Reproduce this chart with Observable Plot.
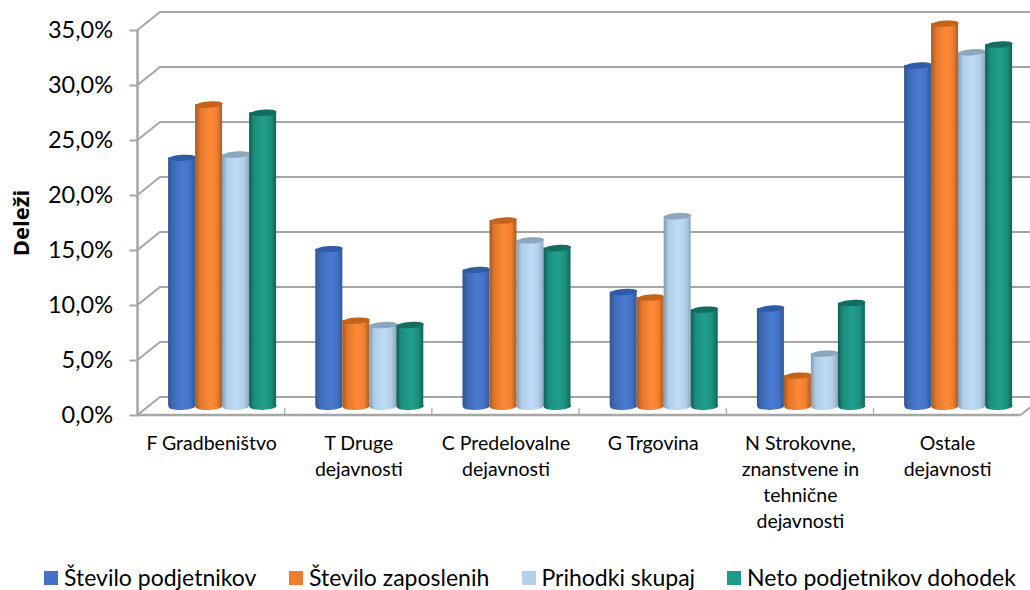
<!DOCTYPE html>
<html><head><meta charset="utf-8">
<script src="https://cdn.jsdelivr.net/npm/d3@7"></script>
<script src="https://cdn.jsdelivr.net/npm/@observablehq/plot@0.6"></script>
<style>
html,body{margin:0;padding:0;background:#fff;width:1030px;height:590px;overflow:hidden}
#chart{position:absolute;left:0;top:0}
#legend{position:absolute;left:0;top:545px;width:1030px;height:45px;font-family:Lato,sans-serif;font-size:23px;color:#000}
#legend .item{position:absolute;top:20px;line-height:24px;white-space:nowrap}
#legend .sw{position:absolute;top:6px;width:14px;height:14px}
#legend .lb{position:absolute;left:20px;top:0}
</style></head><body>
<div id="chart"></div><div id="legend"></div>
<script>
const categories = ["F Gradbeništvo","T Druge\ndejavnosti","C Predelovalne\ndejavnosti","G Trgovina","N Strokovne,\nznanstvene in\ntehnične\ndejavnosti","Ostale\ndejavnosti"];
const series = ["Število podjetnikov","Število zaposlenih","Prihodki skupaj","Neto podjetnikov dohodek"];
const podjetniki = [22.6,14.3,12.4,10.4,8.9,31.0];
const zaposleni = [27.45,7.8,16.9,9.9,2.8,34.8];
const prihodki = [22.9,7.4,15.1,17.3,4.8,32.2];
const dohodek = [26.7,7.4,14.4,8.8,9.4,32.9];
const seriesValues = [podjetniki,zaposleni,prihodki,dohodek];
const yTicks = [0,5,10,15,20,25,30,35];
const legendLeft = [44,289,521.5,727];
const swatch = ["#4472c4","#ed7d31","#b4cfe9","#1f9a88"];
const topColor = ["#2f5ca8","#c5631d","#8ba6bd","#126e60"];
const gradients = [
 ["#2f568f","#3f69b6","#4a7bd2","#4472c4","#2f5a9e"],
 ["#a9581c","#e0762c","#ff8a35","#f08030","#ae5c20"],
 ["#8499ad","#b0cde8","#bedcf6","#b2cfea","#8fa9c2"],
 ["#0f5c52","#1c8d7c","#20a08d","#1c8f7e","#11665a"]
];
const grid = "#a6a6a6";
const depthX = 22.5, depthY = -18;

const table = series.flatMap((s,i)=>categories.map((c,j)=>({series:s,category:c,value:seriesValues[i][j]})));

function ellipseSymbol(rx,ry,ang){
  const c=Math.cos(ang), s=Math.sin(ang), k=0.5523;
  const p=(x,y)=>[x*c-y*s,x*s+y*c];
  return {draw(ctx){
    ctx.moveTo(...p(rx,0));
    ctx.bezierCurveTo(...p(rx,k*ry),...p(k*rx,ry),...p(0,ry));
    ctx.bezierCurveTo(...p(-k*rx,ry),...p(-rx,k*ry),...p(-rx,0));
    ctx.bezierCurveTo(...p(-rx,-k*ry),...p(-k*rx,-ry),...p(0,-ry));
    ctx.bezierCurveTo(...p(k*rx,-ry),...p(rx,-k*ry),...p(rx,0));
    ctx.closePath();
  }};
}
const topSym = ellipseSymbol(13.5,3.1,-0.07);
const baseSym = ellipseSymbol(13.5,3.4,-0.03);

// A plain function mark is called once per facet: draw only on the first call.
// The first facet's frame spans one category band, between the plot's margins.
const once = fn => { let done = false; return (...a) => { if (done) return null; done = true; return fn(...a); }; };
const frameOf = dim => {
  const left = dim.marginLeft;
  const band = dim.width - dim.marginRight - left;
  return {left, band, right: left + band*categories.length};
};

const defsMark = once(()=>{
  const defs = d3.create("svg:defs");
  gradients.forEach((stops,i)=>{
    const g = defs.append("linearGradient").attr("id","cyl"+i).attr("x1",0).attr("x2",1).attr("y1",0).attr("y2",0);
    [0,.18,.55,.8,1].forEach((o,k)=>g.append("stop").attr("offset",o).attr("stop-color",stops[k]));
  });
  return defs.node();
});
const wallMark = once((index,scales,values,dim)=>{
  const g = d3.create("svg:g").attr("stroke",grid).attr("stroke-width",2).attr("fill","none");
  const {left,right} = frameOf(dim);
  yTicks.forEach(v=>{
    g.append("path").attr("d",`M${left},${scales.y(v)}l${depthX},${depthY}H${right+depthX}`);
  });
  g.append("path").attr("d",`M${right},${scales.y(0)}l${depthX},${depthY}`);
  return g.node();
});
const frontMark = once((index,scales,values,dim)=>{
  const g = d3.create("svg:g").attr("stroke",grid).attr("fill","none");
  const {left,band,right} = frameOf(dim), y0 = scales.y(0);
  g.append("path").attr("stroke-width",2.5).attr("d",`M${left},${scales.y(35)}V${y0}H${right}`);
  d3.range(1,categories.length).forEach(i=>{
    g.append("path").attr("stroke-width",1.2).attr("d",`M${left+i*band},${y0}v-7`);
  });
  return g.node();
});

const marks = [
  defsMark,
  wallMark,
  frontMark
];
series.forEach((s,i)=>{
  const rows = table.filter(d=>d.series===s);
  marks.push(
    Plot.dot(rows,{fx:"category",x:"series",y:()=>0,symbol:baseSym,r:5,fill:`url(#cyl${i})`,dx:11,dy:-9}),
    Plot.barY(rows,{fx:"category",x:"series",y:"value",fill:`url(#cyl${i})`,dx:11,dy:-9}),
    Plot.dot(rows,{fx:"category",x:"series",y:"value",symbol:topSym,r:5,fill:topColor[i],dx:11,dy:-9})
  );
});
marks.push(
  Plot.axisY({ticks:yTicks,tickFormat:d=>d.toFixed(1).replace(".",",")+"%",label:null,tickSize:8,tickPadding:17,stroke:grid,strokeWidth:2,fill:"#000",fontSize:23.5,strokeOpacity:1}),
  Plot.axisFx({anchor:"bottom",domain:categories,label:null,tickSize:0,tickPadding:16,lineHeight:1.333,fontSize:19.5,fill:"#000"}),
  Plot.text(["Deleži"],{frameAnchor:"left",textAnchor:"middle",dx:-116.5,rotate:-90,fontFamily:"'Open Sans', sans-serif",fontWeight:700,fontSize:22,fill:"#000",facet:"super"})
);

const plot = Plot.plot({
  width:1030,height:545,
  marginLeft:137.5,marginRight:9.3,marginTop:30,marginBottom:130,
  style:{fontFamily:"Lato, sans-serif",background:"#fff",overflow:"hidden"},
  fx:{domain:categories,padding:0,round:false,axis:null,label:null},
  x:{domain:series,paddingInner:0,paddingOuter:0.726,round:false,axis:null},
  y:{domain:[0,35],axis:null},
  marks
});
document.getElementById("chart").append(plot);

const legend = d3.select("#legend");
series.forEach((s,i)=>{
  const it = legend.append("div").attr("class","item").style("left",legendLeft[i]+"px");
  it.append("span").attr("class","sw").style("background",swatch[i]);
  it.append("span").attr("class","lb").text(s);
});
</script>
</body></html>
